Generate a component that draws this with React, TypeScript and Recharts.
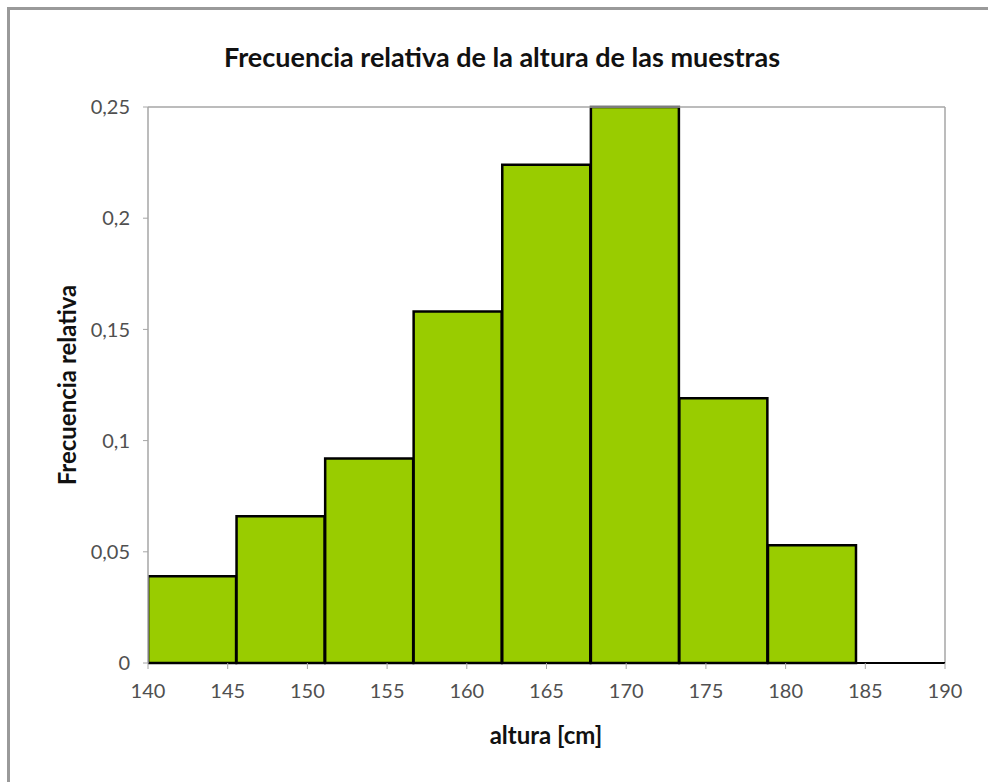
import { Bar, ComposedChart, ReferenceLine, XAxis, YAxis } from "recharts"

// Histogram bins of 50/9 cm between 140 and 190, keyed by their mid point
const binMids = [142.78, 148.33, 153.89, 159.44, 165, 170.56, 176.11, 181.67, 187.22]
const relFreq = [0.039, 0.066, 0.092, 0.158, 0.224, 0.25, 0.119, 0.053, 0]
const xTicks = [140, 145, 150, 155, 160, 165, 170, 175, 180, 185, 190]
const yTicks = [0, 0.05, 0.1, 0.15, 0.2, 0.25]

const data = binMids.map((mid, i) => ({ mid, value: relFreq[i] }))

const FONT = "Lato, 'Open Sans', sans-serif"
const tickStyle = { fontSize: 20, fill: "#505050", fontFamily: FONT }

export default function App() {
  return (
    <div
      style={{
        position: "fixed",
        left: 0,
        top: 0,
        width: 988,
        height: 782,
        overflow: "hidden",
        background: "#fff",
        fontFamily: FONT,
      }}
    >
      <div style={{ position: "absolute", left: 0, top: 0 }}>
        <ComposedChart
          width={988}
          height={782}
          data={data}
          barCategoryGap={0}
          barGap={0}
          margin={{ top: 107, right: 43, bottom: 89, left: 40 }}
        >
          <XAxis
            dataKey="mid"
            type="number"
            domain={[140, 190]}
            ticks={xTicks}
            allowDataOverflow
            height={30}
            axisLine={{ stroke: "#000", strokeWidth: 2 }}
            tickLine={{ stroke: "#a6a6a6" }}
            tickSize={6}
            tickMargin={15}
            tick={tickStyle}
          />
          <YAxis
            domain={[0, 0.25]}
            ticks={yTicks}
            width={108}
            axisLine={{ stroke: "#a6a6a6", strokeWidth: 1.5 }}
            tickLine={{ stroke: "#a6a6a6" }}
            tickSize={5}
            tickMargin={13}
            tick={tickStyle}
            tickFormatter={(v: number) => String(v).replace(".", ",")}
          />
          <ReferenceLine y={0.25} stroke="#a6a6a6" strokeWidth={1.5} />
          <ReferenceLine x={190} stroke="#a6a6a6" strokeWidth={1.5} />
          <Bar
            dataKey="value"
            fill="#99cc00"
            stroke="#000"
            strokeWidth={2.5}
            isAnimationActive={false}
          />
        </ComposedChart>
      </div>
      {/* outer frame: only top and left edges are visible */}
      <div
        style={{
          position: "absolute",
          left: 7,
          top: 7,
          width: 990,
          height: 790,
          borderTop: "3px solid #9a9a9a",
          borderLeft: "3px solid #9a9a9a",
          boxSizing: "border-box",
          pointerEvents: "none",
        }}
      />
      <div
        style={{
          position: "absolute",
          left: 502,
          top: 56,
          transform: "translate(-50%, -50%)",
          whiteSpace: "nowrap",
          fontWeight: 700,
          fontSize: 27,
          color: "#111",
        }}
      >
        Frecuencia relativa de la altura de las muestras
      </div>
      <div
        style={{
          position: "absolute",
          left: 66,
          top: 385,
          transform: "translate(-50%, -50%) rotate(-90deg)",
          whiteSpace: "nowrap",
          fontWeight: 700,
          fontSize: 24,
          color: "#111",
        }}
      >
        Frecuencia relativa
      </div>
      <div
        style={{
          position: "absolute",
          left: 546,
          top: 734,
          transform: "translate(-50%, -50%)",
          whiteSpace: "nowrap",
          fontWeight: 700,
          fontSize: 24,
          color: "#111",
        }}
      >
        altura [cm]
      </div>
    </div>
  )
}
